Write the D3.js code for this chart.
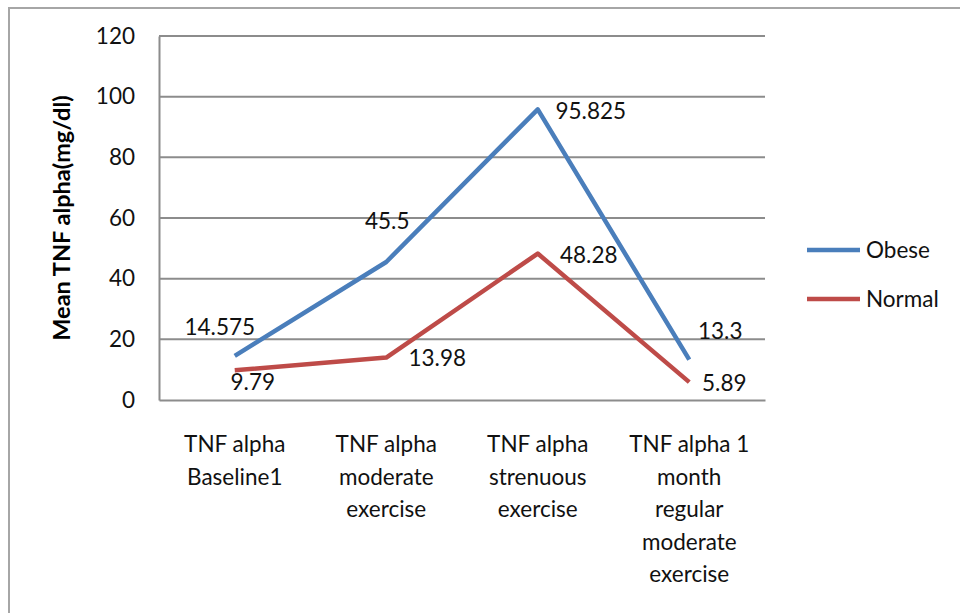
<!DOCTYPE html>
<html>
<head>
<meta charset="utf-8">
<script src="https://d3js.org/d3.v7.min.js"></script>
<style>
  html, body { margin: 0; padding: 0; background: #fff; }
  svg { display: block; font-family: Lato, "Open Sans", sans-serif; }
</style>
</head>
<body>
<svg id="chart" width="960" height="613"></svg>
<script>
// Mean TNF alpha by exercise condition
const categories = [
  "TNF alpha\nBaseline1",
  "TNF alpha\nmoderate\nexercise",
  "TNF alpha\nstrenuous\nexercise",
  "TNF alpha 1\nmonth\nregular\nmoderate\nexercise"
];
const seriesNames = ["Obese", "Normal"];
const obeseValues = [14.575, 45.5, 95.825, 13.3];
const normalValues = [9.79, 13.98, 48.28, 5.89];
const yTicks = [0, 20, 40, 60, 80, 100, 120];
const yTitle = "Mean TNF alpha(mg/dl)";

const colors = { Obese: "#4a7ebb", Normal: "#be4b48" };
// label placement relative to each point (dx, dy)
const labelOffsets = {
  Obese:  [[-15, -29], [1, -41], [53, 2], [31, -29]],
  Normal: [[18, 12], [51, 1], [51, 2], [35, 1]]
};

const series = [
  { name: "Obese", values: obeseValues },
  { name: "Normal", values: normalValues }
];

const svg = d3.select("#chart");
const plot = { left: 159, right: 765, top: 36, bottom: 400 };
const fontSize = 22.5;
const textColor = "#111";

// outer chart frame
svg.append("rect")
  .attr("x", 9).attr("y", 8).attr("width", 960).attr("height", 620)
  .attr("fill", "none").attr("stroke", "#a6a6a6").attr("stroke-width", 2);

const x = d3.scaleBand()
  .domain(d3.range(categories.length))
  .range([plot.left, plot.right]);
const y = d3.scaleLinear().domain([0, 120]).range([plot.bottom, plot.top]);

// horizontal gridlines
svg.append("g")
  .selectAll("line")
  .data(yTicks.filter(t => t > 0))
  .join("line")
  .attr("x1", plot.left).attr("x2", plot.right)
  .attr("y1", d => y(d)).attr("y2", d => y(d))
  .attr("stroke", "#8c8c8c").attr("stroke-width", 2);

// y axis
const yAxis = svg.append("g")
  .attr("transform", `translate(${plot.left},0)`)
  .call(d3.axisLeft(y).tickValues(yTicks).tickSize(0).tickPadding(24));
yAxis.select(".domain").attr("stroke", "#8c8c8c").attr("stroke-width", 2);
yAxis.selectAll("text")
  .attr("font-size", fontSize).attr("fill", textColor)
  .attr("font-family", "Lato, sans-serif");

// x axis
const xAxis = svg.append("g")
  .attr("transform", `translate(0,${plot.bottom})`)
  .call(d3.axisBottom(x).tickSize(0).tickFormat(""));
xAxis.select(".domain").attr("stroke", "#8c8c8c").attr("stroke-width", 2);

// multi-line category labels
const catG = svg.append("g");
categories.forEach((c, i) => {
  const t = catG.append("text")
    .attr("text-anchor", "middle")
    .attr("font-size", fontSize)
    .attr("fill", textColor);
  c.split("\n").forEach((line, j) => {
    t.append("tspan")
      .attr("x", x(i) + x.bandwidth() / 2)
      .attr("y", 452 + j * 32.5)
      .text(line);
  });
});

// y title
svg.append("text")
  .attr("transform", `translate(70,${(plot.top + plot.bottom) / 2}) rotate(-90)`)
  .attr("text-anchor", "middle")
  .attr("font-size", 23.5)
  .attr("font-weight", "bold")
  .attr("fill", "#000")
  .text(yTitle);

// series lines
const line = d3.line()
  .x((d, i) => x(i) + x.bandwidth() / 2)
  .y(d => y(d));

svg.append("g")
  .selectAll("path")
  .data(series)
  .join("path")
  .attr("d", d => line(d.values))
  .attr("fill", "none")
  .attr("stroke", d => colors[d.name])
  .attr("stroke-width", 4.5)
  .attr("stroke-linejoin", "round");

// value labels
series.forEach(s => {
  svg.append("g")
    .selectAll("text")
    .data(s.values)
    .join("text")
    .attr("x", (d, i) => x(i) + x.bandwidth() / 2 + labelOffsets[s.name][i][0])
    .attr("y", (d, i) => y(d) + labelOffsets[s.name][i][1])
    .attr("dy", "0.35em")
    .attr("text-anchor", "middle")
    .attr("font-size", fontSize)
    .attr("fill", textColor)
    .text(d => d);
});

// legend
const legend = svg.append("g");
seriesNames.forEach((name, i) => {
  const ly = 250 + i * 49;
  legend.append("line")
    .attr("x1", 807).attr("x2", 860)
    .attr("y1", ly).attr("y2", ly)
    .attr("stroke", colors[name]).attr("stroke-width", 4.5);
  legend.append("text")
    .attr("x", 866).attr("y", ly)
    .attr("dy", "0.35em")
    .attr("font-size", fontSize)
    .attr("fill", textColor)
    .text(name);
});
</script>
</body>
</html>
